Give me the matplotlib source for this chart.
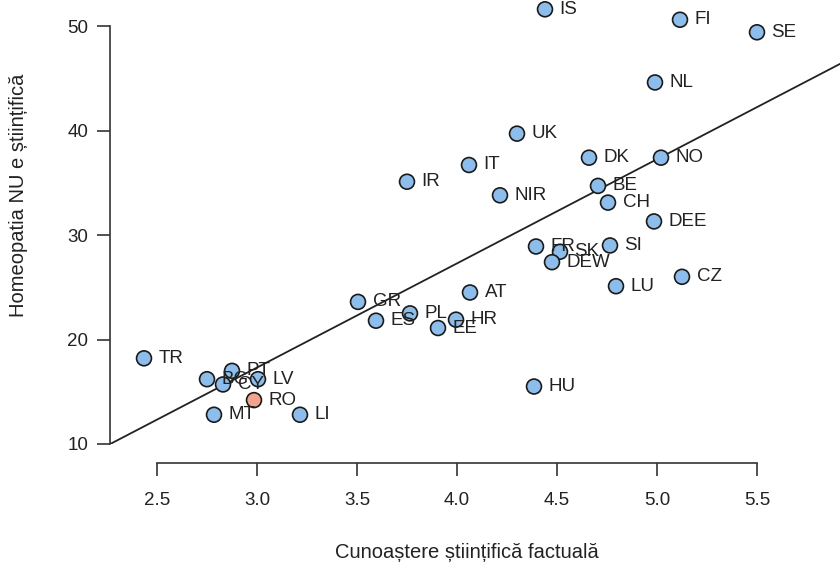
import numpy as np
import matplotlib
matplotlib.use("Agg")
import matplotlib.pyplot as plt

plt.rcParams['font.family'] = ['Liberation Sans', 'DejaVu Sans']

# country codes, factual science knowledge (x), "homeopathy is NOT scientific" % (y)
countries = ['IS', 'FI', 'SE', 'NL', 'UK', 'DK', 'NO', 'IT', 'IR', 'BE',
             'NIR', 'CH', 'DEE', 'FR', 'SK', 'SI', 'DEW', 'CZ', 'LU', 'AT',
             'GR', 'PL', 'ES', 'HR', 'EE', 'TR', 'PT', 'BG', 'CY', 'LV',
             'HU', 'RO', 'MT', 'LI']
knowledge = [4.44, 5.115, 5.50, 4.99, 4.30, 4.66, 5.02, 4.06, 3.75, 4.705,
             4.215, 4.755, 4.985, 4.395, 4.515, 4.765, 4.475, 5.125, 4.795, 4.065,
             3.505, 3.765, 3.595, 3.995, 3.905, 2.435, 2.875, 2.75, 2.83, 3.005,
             4.385, 2.985, 2.785, 3.215]
not_science = [51.6, 50.6, 49.4, 44.6, 39.7, 37.4, 37.4, 36.7, 35.1, 34.7,
               33.8, 33.1, 31.3, 28.9, 28.4, 29.0, 27.4, 26.0, 25.1, 24.5,
               23.6, 22.5, 21.8, 21.9, 21.1, 18.2, 17.0, 16.2, 15.7, 16.2,
               15.5, 14.2, 12.8, 12.8]
highlight = 'RO'

x = np.array(knowledge)
y = np.array(not_science)
slope, intercept = np.polyfit(x, y, 1)

fig = plt.figure(figsize=(8.4, 5.67), dpi=100)
ax = fig.add_axes([110 / 840, 123 / 567, 730 / 840, 444 / 567])
ax.set_xlim(2.265, 5.915)
ax.set_ylim(10, 52.49)

xs = np.array([2.0, 6.5])
ax.plot(xs, intercept + slope * xs, color='#222222', lw=1.3, zorder=1)

colors = ['#F2A38F' if c == highlight else '#8DBDEB' for c in countries]
ax.scatter(x, y, s=115, c=colors, edgecolors='#1a1a1a', linewidths=1.2,
           zorder=3, clip_on=False)
for c, xi, yi in zip(countries, x, y):
    ax.annotate(c, (xi, yi), xytext=(10.5, 0), textcoords='offset points',
                ha='left', va='center', fontsize=13.5, color='#222222',
                zorder=4, annotation_clip=False)

for side in ['top', 'right']:
    ax.spines[side].set_visible(False)
ax.spines['left'].set_bounds(10, 50)
ax.spines['bottom'].set_bounds(2.5, 5.5)
ax.spines['bottom'].set_position(('outward', 14))
for side in ['left', 'bottom']:
    ax.spines[side].set_color('#333333')
    ax.spines[side].set_linewidth(1.2)

ax.set_xticks([2.5, 3.0, 3.5, 4.0, 4.5, 5.0, 5.5])
ax.set_xticklabels(['2.5', '3.0', '3.5', '4.0', '4.5', '5.0', '5.5'])
ax.set_yticks([10, 20, 30, 40, 50])
ax.tick_params(axis='both', direction='out', length=9.5, width=1.2,
               color='#333333', labelsize=13.5, labelcolor='#222222')
ax.tick_params(axis='x', pad=11)
ax.tick_params(axis='y', pad=6)

ax.set_xlabel('Cunoaștere științifică factuală', fontsize=14.5, color='#222222',
              va='center')
ax.set_ylabel('Homeopatia NU e științifică', fontsize=14.5, color='#222222',
              va='center')
ax.xaxis.set_label_coords(0.489, -0.245)
ax.yaxis.set_label_coords(-0.126, 0.56)

fig.savefig('out.png', dpi=100)
